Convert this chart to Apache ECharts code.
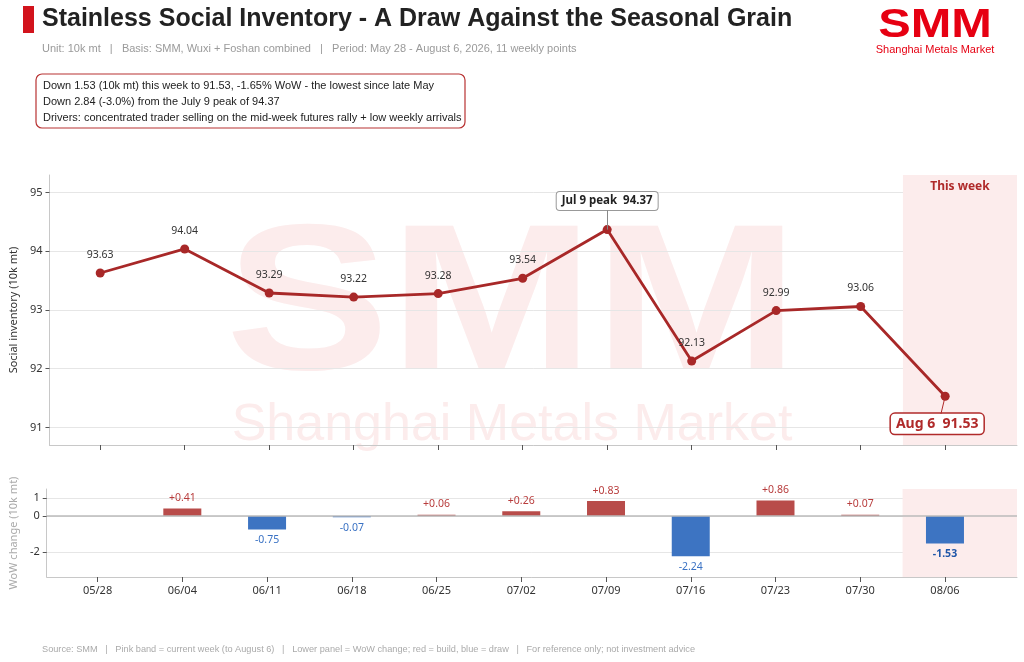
<!DOCTYPE html>
<html>
<head>
<meta charset="utf-8">
<script src="https://cdn.jsdelivr.net/npm/echarts@6.0.0/dist/echarts.min.js"></script>
<style>
  html, body { margin: 0; padding: 0; background: #fff; }
  #chart { width: 1024px; height: 662px; }
</style>
</head>
<body>
<div id="chart"></div>
<script>
// weekly points, May 28 - Aug 6 2026 (10k mt)
const weeks = ['05/28', '06/04', '06/11', '06/18', '06/25', '07/02', '07/09', '07/16', '07/23', '07/30', '08/06'];
const inventory = [93.63, 94.04, 93.29, 93.22, 93.28, 93.54, 94.37, 92.13, 92.99, 93.06, 91.53];
const wowChange = [null, 0.41, -0.75, -0.07, 0.06, 0.26, 0.83, -2.24, 0.86, 0.07, -1.53];
const invTicks = [91, 92, 93, 94, 95];
const wowTicks = [-2, 0, 1];
const peakIdx = 6;
const peakTag = 'Jul 9 peak';
const lastTag = 'Aug 6';
const notes = [
    'Down 1.53 (10k mt) this week to 91.53, -1.65% WoW - the lowest since late May',
    'Down 2.84 (-3.0%) from the July 9 peak of 94.37',
    'Drivers: concentrated trader selling on the mid-week futures rally + low weekly arrivals'
];

const RED = '#a82828';
const BAR_RED = '#b84c4a';
const BAR_BLUE = '#3d74c2';
const FONT = 'Noto Sans, Liberation Sans, sans-serif';
const BODY = 'Liberation Sans, sans-serif';

const lastIdx = weeks.length - 1;
const xIdx = weeks.map((w, i) => i);
const xMin = -0.6, xMax = 10.85, bandStart = lastIdx - 0.5;

let lineData = inventory.map((v, i) => {
    let item = { value: [i, v] };
    if (i === peakIdx) {
        item.label = {
            position: 'top', distance: 15,
            formatter: peakTag + '  ' + v.toFixed(2),
            fontWeight: 'bold', fontSize: 11.5, color: '#222',
            backgroundColor: '#fff', borderColor: '#999', borderWidth: 1,
            borderRadius: 3, padding: [3, 5]
        };
    } else if (i === lastIdx) {
        item.label = {
            position: 'bottom', distance: 13, offset: [-8, 0],
            formatter: lastTag + '  ' + v.toFixed(2),
            fontWeight: 'bold', fontSize: 14, color: '#b02a2a',
            backgroundColor: '#fff', borderColor: '#b02a2a', borderWidth: 1.5,
            borderRadius: 4, padding: [3, 5]
        };
    }
    return item;
});

let barData = [];
wowChange.forEach((v, i) => {
    if (v === null) return;
    let up = v >= 0;
    barData.push({
        value: [i, v],
        itemStyle: { color: up ? BAR_RED : BAR_BLUE },
        label: {
            position: up ? 'top' : 'bottom',
            color: i === lastIdx ? '#1f56a8' : (up ? '#b83c3c' : '#3a72c4'),
            fontWeight: i === lastIdx ? 'bold' : 'normal'
        }
    });
});

const xAxisBase = {
    type: 'value', min: xMin, max: xMax,
    axisLine: { onZero: false, lineStyle: { color: '#c8c8c8' } },
    axisTick: { customValues: xIdx, length: 5, lineStyle: { color: '#555' } },
    splitLine: { show: false }
};

let chart = echarts.init(document.getElementById('chart'));
chart.setOption({
    animation: false,
    textStyle: { fontFamily: FONT },
    grid: [
        { left: 42, right: 7, top: 175, height: 270 },
        { left: 42, right: 7, top: 489, height: 88 }
    ],
    xAxis: [
        Object.assign({}, xAxisBase, { gridIndex: 0, axisLabel: { show: false } }),
        Object.assign({}, xAxisBase, {
            gridIndex: 1,
            axisLabel: {
                customValues: xIdx, color: '#333', fontSize: 11, margin: 8,
                formatter: v => weeks[Math.round(v)]
            }
        })
    ],
    yAxis: [
        {
            type: 'value', gridIndex: 0, min: 90.7, max: 95.3,
            name: 'Social inventory (10k mt)', nameLocation: 'middle', nameGap: 24,
            nameTextStyle: { color: '#333', fontSize: 11 },
            axisLine: { show: true, onZero: false, lineStyle: { color: '#c8c8c8' } },
            axisTick: { show: true, customValues: invTicks, length: 4, lineStyle: { color: '#555' } },
            axisLabel: { customValues: invTicks, color: '#333', fontSize: 11, margin: 7 },
            splitLine: { lineStyle: { color: '#e6e6e6' }, showMinLine: true, showMaxLine: true }
        },
        {
            type: 'value', gridIndex: 1, min: -3.4, max: 1.5,
            name: 'WoW change (10k mt)', nameLocation: 'middle', nameGap: 24,
            nameTextStyle: { color: '#aaa', fontSize: 11 },
            axisLine: { show: true, onZero: false, lineStyle: { color: '#c8c8c8' } },
            axisTick: { show: true, customValues: wowTicks, length: 4, lineStyle: { color: '#555' } },
            axisLabel: { customValues: wowTicks, color: '#333', fontSize: 11, margin: 7 },
            splitLine: { lineStyle: { color: '#e6e6e6' }, showMinLine: true, showMaxLine: true }
        }
    ],
    graphic: [
        // watermark
        {
            type: 'text', z: -10, silent: true, x: 512, y: 312, scaleX: 1.05, scaleY: 0.89,
            style: { text: 'SMM', x: 0, y: 0, fill: '#fcecec', font: 'bold 234px Liberation Sans', textAlign: 'center', textVerticalAlign: 'middle' }
        },
        {
            type: 'text', z: -10, silent: true,
            style: { text: 'Shanghai Metals Market', x: 512, y: 426, fill: '#fcecec', font: '52px Liberation Sans', textAlign: 'center', textVerticalAlign: 'middle' }
        },
        // header
        { type: 'rect', shape: { x: 23, y: 6, width: 11, height: 27 }, style: { fill: '#d2131c' } },
        {
            type: 'text',
            style: { text: 'Stainless Social Inventory - A Draw Against the Seasonal Grain', x: 42, y: 19, fill: '#222', font: 'bold 25px ' + BODY, textVerticalAlign: 'middle' }
        },
        {
            type: 'text',
            style: { text: 'Unit: 10k mt   |   Basis: SMM, Wuxi + Foshan combined   |   Period: May 28 - August 6, 2026, 11 weekly points', x: 42, y: 49, fill: '#9a9a9a', font: '11px ' + BODY, textVerticalAlign: 'middle' }
        },
        {
            type: 'text', x: 935, y: 26, scaleX: 1.16, scaleY: 0.95,
            style: { text: 'SMM', x: 0, y: 0, fill: '#e60012', font: '900 42px Liberation Sans', textAlign: 'center', textVerticalAlign: 'middle' }
        },
        {
            type: 'text',
            style: { text: 'Shanghai Metals Market', x: 935, y: 50, fill: '#e60012', font: '11px Liberation Sans', textAlign: 'center', textVerticalAlign: 'middle' }
        },
        // notes box
        {
            type: 'rect', shape: { x: 36, y: 74, width: 429, height: 54, r: 6 },
            style: { fill: '#fff', stroke: '#b83232', lineWidth: 1.2 }
        },
        ...notes.map((t, k) => ({
            type: 'text',
            style: { text: t, x: 43, y: 86 + k * 16, fill: '#222', font: '11px ' + BODY, textVerticalAlign: 'middle' }
        })),
        // footer
        {
            type: 'text',
            style: { text: 'Source: SMM   |   Pink band = current week (to August 6)   |   Lower panel = WoW change; red = build, blue = draw   |   For reference only; not investment advice', x: 42, y: 649, fill: '#aaa', font: '9.2px ' + BODY, textVerticalAlign: 'middle' }
        }
    ],
    series: [
        {
            type: 'line', xAxisIndex: 0, yAxisIndex: 0, z: 3,
            data: lineData,
            symbol: 'circle', symbolSize: 9,
            lineStyle: { color: RED, width: 2.8 },
            itemStyle: { color: RED },
            label: {
                show: true, position: 'top', distance: 8,
                color: '#333', fontSize: 10.5,
                formatter: p => p.value[1].toFixed(2)
            },
            markArea: {
                silent: true,
                itemStyle: { color: '#fcecec' },
                label: { show: true, position: 'insideTop', distance: 6, color: '#b02a2a', fontWeight: 'bold', fontSize: 12 },
                data: [[{ xAxis: bandStart, name: 'This week' }, { xAxis: xMax }]]
            },
            markLine: {
                silent: true, symbol: 'none', label: { show: false },
                data: [
                    [
                        { coord: [peakIdx, inventory[peakIdx]], lineStyle: { color: '#888', width: 1, type: 'solid' } },
                        { coord: [peakIdx, inventory[peakIdx] + 0.33] }
                    ],
                    [
                        { coord: [lastIdx, inventory[lastIdx]], lineStyle: { color: '#b02a2a', width: 1, type: 'solid' } },
                        { coord: [lastIdx - 0.05, inventory[lastIdx] - 0.3] }
                    ]
                ]
            }
        },
        {
            type: 'bar', xAxisIndex: 1, yAxisIndex: 1, z: 3,
            data: barData,
            barWidth: 38,
            label: {
                show: true, distance: 5, fontSize: 10.5,
                formatter: p => (p.value[1] > 0 ? '+' : '') + p.value[1].toFixed(2)
            },
            markArea: {
                silent: true,
                itemStyle: { color: '#fcecec' },
                data: [[{ xAxis: bandStart }, { xAxis: xMax }]]
            },
            markLine: {
                silent: true, symbol: 'none', label: { show: false },
                lineStyle: { color: '#bbb', width: 1.5, type: 'solid' },
                data: [{ yAxis: 0 }]
            }
        }
    ]
});
</script>
</body>
</html>
